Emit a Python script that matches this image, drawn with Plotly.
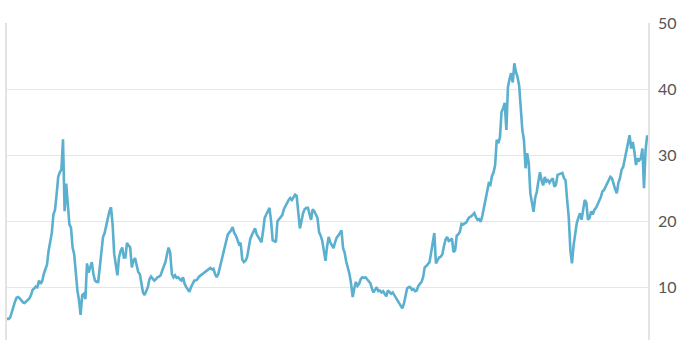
import pandas as pd
import plotly.graph_objects as go

# Cyclically adjusted P/E, quarterly readings (Jan, Apr, Jul, Oct), 1921 -> early 2021
cape_1920s = [5.2, 5.2, 5.4, 6.3, 7.0, 7.8, 8.4, 8.5, 8.3, 7.9, 7.7, 7.6,
              7.8, 8.0, 8.3, 8.8, 9.6, 9.8, 10.1, 10.0, 11.0, 10.5, 10.9, 12.0,
              12.6, 13.4, 15.5, 17.0, 18.2, 21.0, 21.7, 24.0, 26.7, 27.4, 27.8, 32.4]
cape_1930s = [21.5, 25.7, 21.7, 19.5, 19.0, 16.0, 15.0, 11.5, 9.5, 8.0, 5.8, 8.8,
              9.0, 8.2, 13.6, 12.2, 13.0, 13.8, 12.0, 11.0, 10.8, 10.8, 13.0, 16.0,
              17.6, 18.2, 19.5, 20.5, 21.5, 22.1, 19.5, 15.0, 13.3, 11.8, 14.5, 15.5,
              16.0, 14.5, 14.5, 16.7]
cape_1940s = [16.3, 16.0, 13.0, 14.0, 14.4, 13.5, 12.3, 12.0, 10.5, 9.2, 8.8, 9.5,
              10.0, 11.2, 11.6, 11.3, 11.0, 11.2, 11.5, 11.6, 11.8, 12.5, 13.2, 13.8,
              15.0, 16.0, 15.2, 12.0, 11.5, 11.8, 11.4, 11.5, 11.2, 11.0, 11.5, 10.5,
              10.0, 9.6, 9.3, 10.0]
cape_1950s = [10.5, 11.0, 11.0, 11.2, 11.6, 11.8, 12.0, 12.2, 12.3, 12.5, 12.8, 12.9,
              12.7, 12.8, 12.0, 11.5, 12.0, 13.0, 14.0, 15.0, 16.0, 17.2, 18.0, 18.3,
              18.6, 19.1, 18.2, 17.8, 17.0, 16.5, 16.7, 14.2, 13.8, 14.0, 14.5, 16.0,
              17.3, 17.9, 18.4, 18.9]
cape_1960s = [18.0, 17.6, 17.2, 16.8, 18.5, 20.5, 21.0, 21.5, 22.0, 20.0, 17.1, 17.0,
              16.8, 20.0, 20.3, 20.6, 20.9, 21.8, 22.3, 22.9, 23.2, 23.5, 23.2, 23.6,
              24.0, 23.8, 21.0, 18.9, 20.0, 21.2, 21.8, 22.0, 22.0, 21.0, 20.2, 21.8,
              21.5, 21.0, 20.5, 18.3]
cape_1970s = [17.8, 17.0, 15.5, 14.0, 16.2, 17.6, 16.8, 16.3, 15.9, 16.8, 17.5, 17.8,
              18.3, 18.6, 15.9, 15.2, 13.8, 13.0, 12.0, 10.5, 8.5, 9.8, 10.8, 10.2,
              10.5, 11.2, 11.5, 11.4, 11.5, 11.2, 10.9, 10.6, 9.8, 9.2, 9.6, 10.0,
              9.4, 9.5, 9.2, 9.4]
cape_1980s = [9.0, 8.6, 9.5, 9.3, 9.0, 9.2, 8.8, 8.3, 8.0, 7.6, 7.2, 6.8,
              7.5, 9.0, 9.8, 10.0, 10.0, 9.6, 9.7, 9.4, 9.5, 10.2, 10.5, 10.8,
              11.5, 13.0, 13.2, 13.5, 13.8, 15.2, 16.7, 18.2, 13.6, 14.2, 14.5, 14.6,
              15.0, 16.2, 17.2, 17.6]
cape_1990s = [17.0, 17.1, 17.4, 15.3, 15.6, 17.8, 18.0, 18.4, 19.6, 19.5, 19.6, 19.8,
              20.3, 20.6, 20.7, 21.0, 21.2, 20.6, 20.2, 20.3, 19.9, 20.8, 22.0, 23.2,
              24.5, 25.7, 25.5, 26.8, 27.4, 28.5, 32.3, 31.8, 32.7, 36.5, 37.1, 37.9,
              33.8, 40.3, 41.5, 42.4]
cape_2000s = [41.0, 43.9, 42.6, 41.8, 40.5, 37.3, 33.8, 32.3, 28.0, 30.3, 28.8, 24.2,
              22.4, 21.4, 23.5, 24.4, 26.0, 27.4, 26.2, 25.4, 26.7, 26.0, 26.2, 25.8,
              26.2, 26.5, 25.2, 25.5, 27.0, 27.1, 27.3, 27.3, 26.5, 26.2, 23.2, 20.5,
              15.6, 13.6, 16.3, 18.0]
cape_2010s = [19.7, 20.5, 21.2, 20.2, 22.0, 23.2, 22.8, 20.2, 20.5, 21.5, 21.0, 21.7,
              22.0, 22.5, 23.2, 23.6, 24.5, 24.7, 25.2, 25.7, 26.0, 26.7, 26.5, 25.5,
              24.8, 24.2, 25.8, 26.5, 27.8, 28.2, 29.5, 30.5, 31.5, 33.0, 31.0, 32.0,
              30.5, 28.5, 29.5, 29.2]
cape_2020s = [29.5, 31.0, 25.0, 30.8, 33.0]

y_ticks = [10, 20, 30, 40, 50]
y_tick_labels = ["10", "20", "30", "40", "50"]

values = (cape_1920s + cape_1930s + cape_1940s + cape_1950s + cape_1960s +
          cape_1970s + cape_1980s + cape_1990s + cape_2000s + cape_2010s + cape_2020s)
dates = pd.date_range("1921-01-01", periods=len(values), freq="QS")

fig = go.Figure()
fig.add_trace(go.Scatter(
    x=dates, y=values, mode="lines",
    line=dict(color="#5BAFCF", width=2.6),
    hoverinfo="skip", showlegend=False,
))

fig.update_layout(
    width=680, height=340,
    margin=dict(l=7, r=32, t=23, b=0),
    paper_bgcolor="white", plot_bgcolor="white",
    font=dict(family="Lato", size=16, color="#555555"),
    xaxis=dict(
        range=["1921-01-01", "2021-02-15"],
        showgrid=False, showticklabels=False, zeroline=False, showline=False,
        ticks="",
    ),
    yaxis=dict(
        side="right", range=[2, 50],
        tickvals=y_ticks, ticktext=y_tick_labels,
        showgrid=True, gridcolor="#E6E6E6", gridwidth=1,
        zeroline=False,
        showline=True, linecolor="#E3E3E3", linewidth=1.5, mirror=True,
        ticks="", ticklabelstandoff=5,
    ),
)

fig.write_html("out.html")
